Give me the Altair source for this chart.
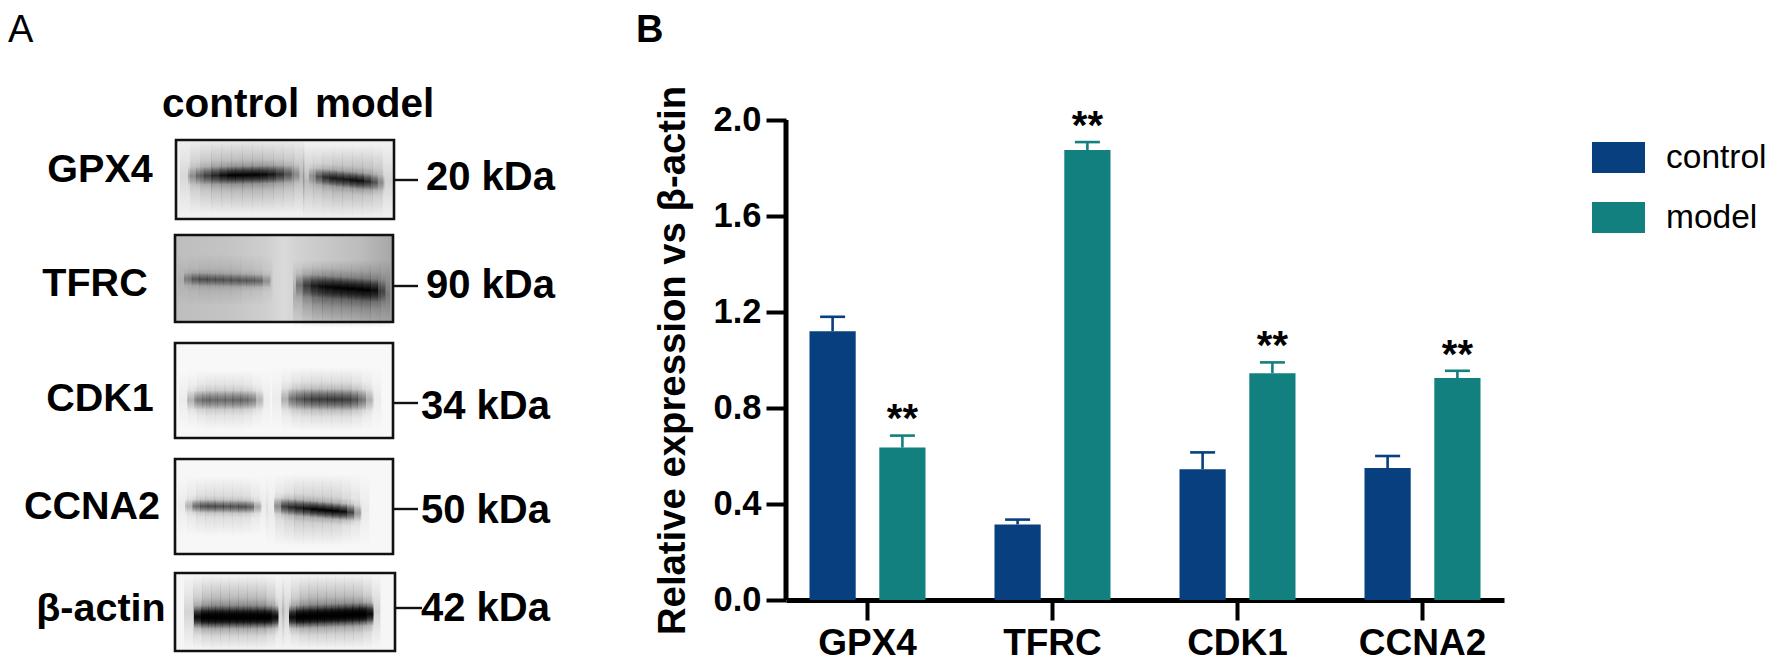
import altair as alt
import pandas as pd

FONT = "Liberation Sans"

# ---------- panel B values ----------
genes = ["GPX4", "TFRC", "CDK1", "CCNA2"]
groups = ["control", "model"]
control_vals = [1.12, 0.315, 0.545, 0.55]
model_vals = [0.635, 1.875, 0.945, 0.925]
control_err = [1.18, 0.335, 0.615, 0.60]
model_err = [0.685, 1.908, 0.99, 0.955]
star_pos = [0.775, 1.995, 1.08, 1.04]
colors = ["#073f7f", "#12807e"]
y_ticks = [0, 0.4, 0.8, 1.2, 1.6, 2.0]

# ---------- panel A: blot content (gel coordinates) ----------
panel_names = ["GPX4", "TFRC", "CDK1", "CCNA2", "β-actin"]
panel_x0 = [176, 175, 175, 175, 175]
panel_x1 = [394, 393, 393, 393, 395]
panel_y0 = [140, 235, 343, 459, 573]
panel_y1 = [219, 322, 438, 554, 651]
panel_bg = ["#f0f0f0", "#bdbdbd", "#f8f8f8", "#f7f7f7", "#f6f6f6"]
kda_labels = ["20 kDa", "90 kDa", "34 kDa", "50 kDa", "42 kDa"]
kda_x = [426, 426, 421, 421, 421]
kda_base = [190, 298, 419, 523, 621]
name_x = [100, 95, 100, 92, 101]
name_base = [182, 296, 411, 519, 621]
tick_y = [180, 286, 403, 509, 608]
tick_x1 = [418, 418, 418, 418, 422]

# band: x start, x end, half height, y centres (start/end), opacity profile
halos = [
    (180, 304, 38, 176, 176, [.10, .22, .30, .36, .38, .40, .40, .40, .38, .34, .30, .24]),
    (303, 392, 36, 181, 181, [.22, .26, .30, .34, .34, .34, .32, .26, .12]),
    (293, 390, 34, 294, 294, [.20, .34, .44, .48, .48, .48, .48, .48, .40, .30]),
    (178, 272, 26, 280, 280, [.08, .12, .16, .16, .16, .16, .14, .12, .08]),
    (179, 270, 30, 400, 400, [.05, .10, .16, .20, .20, .20, .20, .16, .10, .05]),
    (272, 381, 32, 399, 399, [.05, .12, .20, .24, .26, .26, .26, .26, .20, .12, .05]),
    (178, 268, 30, 506, 506, [.05, .10, .16, .18, .18, .18, .18, .16, .10, .05]),
    (266, 369, 36, 510, 510, [.05, .14, .20, .26, .26, .26, .26, .24, .18, .12, .05]),
    (184, 284, 38, 612, 612, [.14, .28, .38, .42, .42, .42, .42, .42, .40, .30, .14]),
    (282, 380, 38, 611, 611, [.14, .28, .38, .42, .42, .42, .42, .42, .40, .30, .14]),
]
bands = [
    (188, 299, 15, 176, 174, [.25, .45, .62, .75, .90, 1, 1, 1, 1, .95, .85, .70, .50, .25]),
    (309, 384, 14, 176, 183, [.25, .55, .75, .85, .85, .85, .90, .90, .75, .55, .25]),
    (184, 270, 11, 279, 281, [.30, .48, .52, .50, .50, .48, .48, .48, .48, .45, .25]),
    (296, 385, 19, 285, 291, [.35, .62, .80, .90, .95, 1, 1, 1, 1, 1, .90, .45]),
    (187, 263, 16, 400, 400, [.20, .42, .48, .46, .46, .46, .48, .48, .42, .20]),
    (281, 373, 18, 399, 400, [.20, .45, .55, .62, .66, .66, .68, .68, .66, .60, .45, .20]),
    (185, 261, 11, 506, 507, [.20, .50, .60, .62, .60, .58, .58, .60, .55, .25]),
    (274, 361, 14, 506, 513, [.35, .70, .80, .85, .92, 1, 1, 1, 1, .95, .70, .30]),
    (194, 278, 19, 617, 617, [.80, 1, 1, 1, 1, 1, 1, 1, 1, 1, 1, .80]),
    (289, 373, 19, 617, 614, [.80, 1, 1, 1, 1, 1, 1, 1, 1, 1, 1, .80]),
    # second pass: black core of the strongest bands
    (194, 278, 13, 617, 617, [.70, 1, 1, 1, 1, 1, 1, 1, 1, 1, 1, .70]),
    (289, 373, 13, 617, 614, [.70, 1, 1, 1, 1, 1, 1, 1, 1, 1, 1, .70]),
]


def segments(table):
    rows = []
    for x0, x1, hh, yc0, yc1, ops in table:
        n = len(ops)
        for i, o in enumerate(ops):
            yc = yc0 + (yc1 - yc0) * i / (n - 1)
            rows.append({
                "x": x0 + (x1 - x0) * i / n,
                "x2": x0 + (x1 - x0) * (i + 1) / n + 0.4,
                "y": yc - hh, "y2": yc + hh, "o": o,
            })
    return pd.DataFrame(rows)


panels_df = pd.DataFrame({
    "name": panel_names, "x0": panel_x0, "x1": panel_x1,
    "y0": panel_y0, "y1": panel_y1, "bg": panel_bg,
    "kda": kda_labels, "kx": kda_x, "kb": kda_base,
    "nx": name_x, "nb": name_base, "ty": tick_y, "tx1": tick_x1,
})

W_LEFT, H_LEFT = 628, 592
X_SC = alt.Scale(domain=[8, 8 + W_LEFT], nice=False, zero=False)
Y_SC = alt.Scale(domain=[8 + H_LEFT, 8], nice=False, zero=False)


def qx(f):
    return alt.X(f + ":Q", scale=X_SC, axis=None)


def qy(f):
    return alt.Y(f + ":Q", scale=Y_SC, axis=None)


panel_bgs = alt.Chart(panels_df).mark_rect().encode(
    x=qx("x0"), x2="x1:Q", y=qy("y0"), y2="y1:Q",
    fill=alt.Fill("bg:N", scale=None),
)

tfrc_bg = alt.Chart(panels_df[panels_df.name == "TFRC"]).mark_rect(
    fill=alt.LinearGradient(
        gradient="linear", x1=0, x2=1, y1=0, y2=0,
        stops=[
            alt.GradientStop(offset=0, color="#bebebe"),
            alt.GradientStop(offset=0.25, color="#c4c4c4"),
            alt.GradientStop(offset=0.42, color="#cfcfcf"),
            alt.GradientStop(offset=0.50, color="#dadada"),
            alt.GradientStop(offset=0.56, color="#d2d2d2"),
            alt.GradientStop(offset=0.85, color="#bcbcbc"),
            alt.GradientStop(offset=1, color="#a6a6a6"),
        ],
    )
).encode(x=qx("x0"), x2="x1:Q", y=qy("y0"), y2="y1:Q")


def vgrad(stops):
    return alt.LinearGradient(
        gradient="linear", x1=0, x2=0, y1=0, y2=1,
        stops=[alt.GradientStop(offset=o, color=f"rgba(0,0,0,{a})") for o, a in stops],
    )


halo_fill = vgrad([(0, 0), (0.25, 0.45), (0.5, 1), (0.75, 0.45), (1, 0)])
band_fill = vgrad([(0, 0), (0.2, 0.12), (0.35, 0.62), (0.5, 1), (0.65, 0.62), (0.8, 0.12), (1, 0)])


def soft_layer(table, fill):
    return alt.Chart(segments(table)).mark_rect(fill=fill).encode(
        x=qx("x"), x2="x2:Q", y=qy("y"), y2="y2:Q",
        opacity=alt.Opacity("o:Q", scale=None, legend=None),
    )


panel_borders = alt.Chart(panels_df).mark_rect(
    fillOpacity=0, stroke="#111111", strokeWidth=2.6
).encode(x=qx("x0"), x2="x1:Q", y=qy("y0"), y2="y1:Q")

kda_ticks = alt.Chart(panels_df).mark_rule(color="#111111", strokeWidth=2.4).encode(
    x=qx("x1"), x2="tx1:Q", y=qy("ty"),
)

name_text = alt.Chart(panels_df).mark_text(
    font=FONT, fontWeight="bold", fontSize=39.5, align="center", baseline="alphabetic", color="black"
).encode(x=qx("nx"), y=qy("nb"), text="name:N")

kda_text = alt.Chart(panels_df).mark_text(
    font=FONT, fontWeight="bold", fontSize=40, align="left", baseline="alphabetic", color="black"
).encode(x=qx("kx"), y=qy("kb"), text="kda:N")

top_labels = pd.DataFrame({"t": ["control", "model"], "x": [162, 315], "y": [117, 117]})
top_text = alt.Chart(top_labels).mark_text(
    font=FONT, fontWeight="bold", fontSize=40.5, align="left", baseline="alphabetic", color="black"
).encode(x=qx("x"), y=qy("y"), text="t:N")

a_df = pd.DataFrame({"t": ["A"], "x": [8], "y": [42]})
a_text = alt.Chart(a_df).mark_text(
    font=FONT, fontSize=38, align="left", baseline="alphabetic", color="black"
).encode(x=qx("x"), y=qy("y"), text="t:N")

left = alt.layer(
    panel_bgs, tfrc_bg, soft_layer(halos, halo_fill), soft_layer(bands, band_fill),
    panel_borders, kda_ticks, name_text, kda_text, top_text, a_text,
).properties(width=W_LEFT, height=H_LEFT)

# ---------- panel B ----------
bar_df = pd.DataFrame({
    "gene": genes * 2,
    "group": ["control"] * 4 + ["model"] * 4,
    "value": control_vals + model_vals,
    "err": control_err + model_err,
})
star_df = pd.DataFrame({"gene": genes, "group": ["model"] * 4, "pos": star_pos, "t": ["**"] * 4})
axis_df = pd.DataFrame({"a": [y_ticks[0]], "b": [y_ticks[-1]]})

x_enc = alt.X(
    "gene:N", sort=genes, title=None,
    scale=alt.Scale(paddingInner=0.373, paddingOuter=0.127),
    axis=alt.Axis(
        labelAngle=0, labelFont=FONT, labelFontWeight="bold", labelFontSize=37,
        labelColor="black", tickColor="black", tickWidth=4, tickSize=20,
        domainColor="black", domainWidth=5, labelPadding=5,
    ),
)
xo_enc = alt.XOffset("group:N", sort=groups, scale=alt.Scale(paddingInner=0.338, paddingOuter=0))
y_sc = alt.Scale(domain=[0, 592 / 240], nice=False)
col_enc = alt.Color(
    "group:N", sort=groups,
    scale=alt.Scale(domain=groups, range=colors),
    legend=alt.Legend(
        title=None, orient="none", legendX=1584, legendY=123,
        symbolType="M-1,-0.585H1V0.585H-1Z", symbolSize=2809, symbolStrokeWidth=0,
        symbolOpacity=1, labelFont=FONT, labelFontSize=33.5, labelColor="black",
        labelLimit=200, labelOffset=21, rowPadding=17,
    ),
)

bars = alt.Chart(bar_df).mark_bar(opacity=1).encode(
    x=x_enc, xOffset=xo_enc,
    y=alt.Y(
        "value:Q", scale=y_sc,
        title="Relative expression vs β-actin",
        axis=alt.Axis(
            values=y_ticks, format=".1f", grid=False, domain=False,
            labelFont=FONT, labelFontWeight="bold", labelFontSize=34.5, labelColor="black",
            tickColor="black", tickWidth=4, tickSize=20,
            labelPadding=5, titleFont=FONT, titleFontWeight="bold", titleFontSize=38.3,
            titleColor="black", titlePadding=21, titleY=352,
        ),
    ),
    color=col_enc,
)
y_line = alt.Chart(axis_df).mark_rule(color="black", strokeWidth=5).encode(
    y=alt.Y("a:Q", scale=y_sc), y2="b:Q", x=alt.value(0),
)
stems = alt.Chart(bar_df).mark_rule(strokeWidth=2.6).encode(
    x=alt.X("gene:N", sort=genes), xOffset=xo_enc,
    y=alt.Y("value:Q", scale=y_sc), y2="err:Q",
    color=alt.Color("group:N", sort=groups, legend=None),
)
caps = alt.Chart(bar_df).mark_tick(orient="horizontal", size=25, thickness=2.6, opacity=1).encode(
    x=alt.X("gene:N", sort=genes), xOffset=xo_enc,
    y=alt.Y("err:Q", scale=y_sc),
    color=alt.Color("group:N", sort=groups, legend=None),
)
stars = alt.Chart(star_df).mark_text(
    font=FONT, fontWeight="bold", fontSize=40, baseline="middle", align="center", color="black", dy=6
).encode(
    x=alt.X("gene:N", sort=genes), xOffset=xo_enc,
    y=alt.Y("pos:Q", scale=y_sc), text="t:N",
)
b_label = alt.Chart(pd.DataFrame({"t": ["B"]})).mark_text(
    font=FONT, fontWeight="bold", fontSize=38, align="left", baseline="alphabetic", color="black"
).encode(x=alt.value(-150), y=alt.value(34), text="t:N")

right = alt.layer(bars, y_line, stems, caps, stars, b_label).properties(width=718, height=592)

chart = alt.hconcat(left, right, spacing=0, padding=0, background="white").configure_view(stroke=None)

chart.save("out.html", embed_options={"renderer": "svg", "actions": False})
